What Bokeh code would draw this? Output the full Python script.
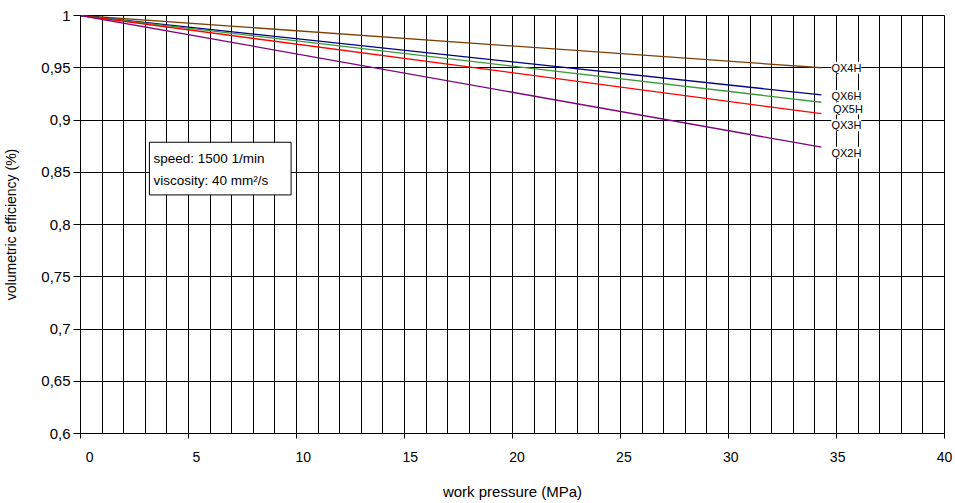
from bokeh.plotting import figure
from bokeh.models import FixedTicker, Label, BoxAnnotation, Range1d, LinearAxis
from bokeh.embed import file_html
from bokeh.resources import INLINE

# ---- data -------------------------------------------------------------
pressure = [0.0, 34.3]                       # work pressure (MPa)
series_names = ["QX4H", "QX6H", "QX5H", "QX3H", "QX2H"]
qx4h = [1.0, 0.950]
qx6h = [1.0, 0.924]
qx5h = [1.0, 0.917]
qx3h = [1.0, 0.906]
qx2h = [1.0, 0.874]

x_tick_values = [0, 5, 10, 15, 20, 25, 30, 35, 40]
x_tick_labels = ["0", "5", "10", "15", "20", "25", "30", "35", "40"]
x_grid_values = [0, 1, 2, 3, 4, 5, 6, 7, 8, 9, 10, 11, 12, 13, 14, 15, 16, 17, 18, 19, 20,
                 21, 22, 23, 24, 25, 26, 27, 28, 29, 30, 31, 32, 33, 34, 35, 36, 37, 38, 39, 40]
y_tick_values = [0.6, 0.65, 0.7, 0.75, 0.8, 0.85, 0.9, 0.95, 1.0]
y_tick_labels = ["0,6", "0,65", "0,7", "0,75", "0,8", "0,85", "0,9", "0,95", "1"]

info_lines = ["speed: 1500 1/min", "viscosity: 40 mm\u00b2/s"]

# ---- styles -----------------------------------------------------------
FONT = "Liberation Sans"
colors = ["#7F3F00", "#000080", "#3A9A3A", "#FF0000", "#800080"]
label_dx = [10, 10, 11.5, 10, 10]
label_dy = [0, -1.4, -6.3, -11.6, -5.7]

p = figure(width=955, height=503,
           x_range=Range1d(0, 40), y_range=Range1d(0.6, 1.0),
           output_backend="svg", toolbar_location=None,
           min_border_left=80, min_border_right=11,
           min_border_top=15, min_border_bottom=70)

p.background_fill_color = "white"
p.border_fill_color = "white"
p.outline_line_color = "black"
p.outline_line_width = 1

# grids
p.xgrid.ticker = FixedTicker(ticks=x_grid_values)
p.ygrid.ticker = FixedTicker(ticks=y_tick_values)
for g in (p.xgrid, p.ygrid):
    g.grid_line_color = "black"
    g.grid_line_alpha = 1.0
    g.grid_line_width = 1

# x axis: tick marks only
xa = p.xaxis[0]
xa.ticker = FixedTicker(ticks=x_tick_values)
xa.major_label_overrides = {v: "" for v in x_tick_values}
xa.major_label_text_font_size = "1px"
xa.major_label_standoff = 0
xa.major_tick_out = 5
xa.major_tick_in = 0
xa.minor_tick_out = 0
xa.minor_tick_in = 0
xa.axis_line_color = "black"
xa.major_tick_line_color = "black"

# second axis carrying the (slightly shifted) tick labels and the title
shifted = [v + 0.42 * (1 - v / 40.0) for v in x_tick_values]
xb = LinearAxis(ticker=FixedTicker(ticks=shifted),
                major_label_overrides=dict(zip(shifted, x_tick_labels)))
xb.axis_line_color = None
xb.major_tick_line_color = None
xb.minor_tick_line_color = None
xb.major_tick_out = 0
xb.major_tick_in = 0
xb.minor_tick_out = 0
xb.minor_tick_in = 0
xb.major_label_standoff = 13
xb.major_label_text_font = FONT
xb.major_label_text_font_size = "14px"
xb.major_label_text_color = "black"
xb.axis_label = "work pressure (MPa)"
xb.axis_label_text_font = FONT
xb.axis_label_text_font_size = "15px"
xb.axis_label_text_font_style = "normal"
xb.axis_label_text_color = "black"
xb.axis_label_standoff = 18
p.add_layout(xb, "below")

# y axis
ya = p.yaxis[0]
ya.ticker = FixedTicker(ticks=y_tick_values)
ya.major_label_overrides = dict(zip(y_tick_values, y_tick_labels))
ya.major_tick_out = 7
ya.major_tick_in = 0
ya.minor_tick_out = 0
ya.minor_tick_in = 0
ya.axis_line_color = "black"
ya.major_tick_line_color = "black"
ya.major_label_text_font = FONT
ya.major_label_text_font_size = "15px"
ya.major_label_text_color = "black"
ya.major_label_standoff = 3
ya.axis_label = "volumetric efficiency (%)"
ya.axis_label_text_font = FONT
ya.axis_label_text_font_size = "14px"
ya.axis_label_text_font_style = "normal"
ya.axis_label_text_color = "black"
ya.axis_label_standoff = 19

# series
all_series = [qx4h, qx6h, qx5h, qx3h, qx2h]
for name, vals, col, dx, dy in zip(series_names, all_series, colors, label_dx, label_dy):
    p.line(pressure, vals, line_color=col, line_width=1.3)
    p.add_layout(Label(x=pressure[-1], y=vals[-1], x_units="data", y_units="data",
                       x_offset=dx, y_offset=dy, text=name,
                       text_align="left", text_baseline="middle",
                       text_font=FONT, text_font_size="11px", text_color="black",
                       background_fill_color="white", background_fill_alpha=1.0))

# info box
p.add_layout(BoxAnnotation(left=3.19, right=9.75, top=0.8787, bottom=0.8283,
                           fill_color="white", fill_alpha=1.0,
                           line_color="black", line_width=1, line_alpha=1.0))
for txt, yy in zip(info_lines, [0.8634, 0.8420]):
    p.add_layout(Label(x=3.38, y=yy, x_units="data", y_units="data",
                       text=txt, text_align="left", text_baseline="middle",
                       text_font=FONT, text_font_size="13.5px", text_color="black"))

open("out.html", "w").write(file_html(p, INLINE))
